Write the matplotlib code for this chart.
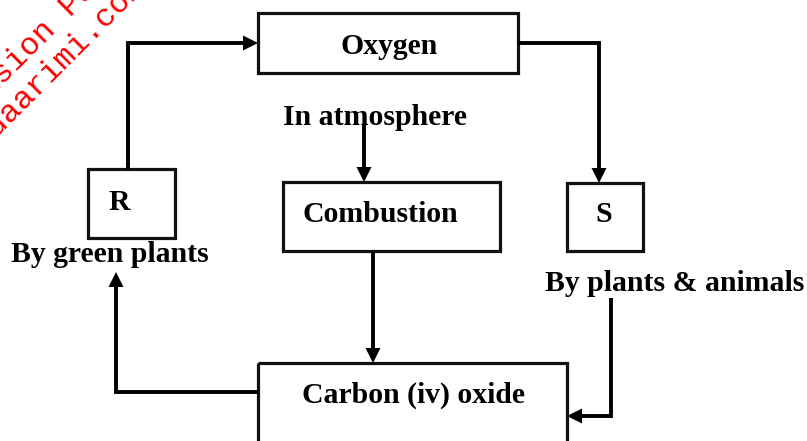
import matplotlib.pyplot as plt
from matplotlib.patches import Rectangle, Polygon

# boxes of the carbon / oxygen cycle diagram
box_labels = ["Oxygen", "R", "Combustion", "S", "Carbon (iv) oxide"]
box_left = [258, 88, 283, 567, 258]
box_right = [518, 175, 500, 643, 567]
box_top = [13, 169, 182, 183, 363]
box_bottom = [73, 238, 251, 251, 470]
label_x = [389, 119, 380, 604, 413]
label_base = [54, 210, 222, 222, 403]

# free captions (text, centre x, baseline y, clip bottom)
captions = ["In atmosphere", "By green plants", "By plants & animals"]
caption_x = [375, 110, 675]
caption_base = [125, 262, 291]
caption_clip = [125, 266, 300]

# connectors, waypoints in pixel space, arrow at the last point
connectors = [
    [(128, 169), (128, 43), (258, 43)],
    [(518, 43), (599, 43), (599, 183)],
    [(364, 125), (364, 182)],
    [(373, 251), (373, 363)],
    [(258, 392), (116, 392), (116, 272)],
    [(611, 298), (611, 416), (567, 416)],
]

watermark = ["Revision Papers", "www.kuaarimi.com"]
watermark_xy = [(152, -64), (146, -12)]

W, H = 807, 441
fig = plt.figure(figsize=(W / 100, H / 100), dpi=100)
ax = fig.add_axes([0, 0, 1, 1])
ax.set_xlim(0, W)
ax.set_ylim(H, 0)
ax.axis("off")

font = dict(family="Liberation Serif", weight="bold", size=21.4, color="black")
lw = 2.3

for lab, x0, x1, y0, y1, tx, ty in zip(box_labels, box_left, box_right,
                                        box_top, box_bottom, label_x, label_base):
    ax.add_patch(Rectangle((x0, y0), x1 - x0, y1 - y0, fill=False,
                           edgecolor="#111111", linewidth=lw, joinstyle="miter"))
    ax.text(tx, ty, lab, ha="center", va="baseline", **font)

for txt, cx, cy, clip in zip(captions, caption_x, caption_base, caption_clip):
    t = ax.text(cx, cy, txt, ha="center", va="baseline", **font)
    cp = Rectangle((0, 0), W, clip, transform=ax.transData, visible=False)
    t.set_clip_path(cp)

head_len, head_w = 15, 7.5
for pts in connectors:
    (xa, ya), (xb, yb) = pts[-2], pts[-1]
    dx, dy = xb - xa, yb - ya
    n = (dx ** 2 + dy ** 2) ** 0.5
    ux, uy = dx / n, dy / n
    bx, by = xb - ux * head_len, yb - uy * head_len
    xs = [p[0] for p in pts[:-1]] + [bx]
    ys = [p[1] for p in pts[:-1]] + [by]
    ax.plot(xs, ys, color="black", linewidth=lw + 0.5,
            solid_capstyle="butt", solid_joinstyle="miter")
    tri = [(xb, yb), (bx - uy * head_w, by + ux * head_w),
           (bx + uy * head_w, by - ux * head_w)]
    ax.add_patch(Polygon(tri, closed=True, color="black", linewidth=0))

for txt, (wx, wy) in zip(watermark, watermark_xy):
    ax.text(wx, wy, txt, family="Liberation Mono", size=23, color="red",
            rotation=45, rotation_mode="anchor", ha="right", va="baseline")

fig.savefig("out.png", dpi=100)
